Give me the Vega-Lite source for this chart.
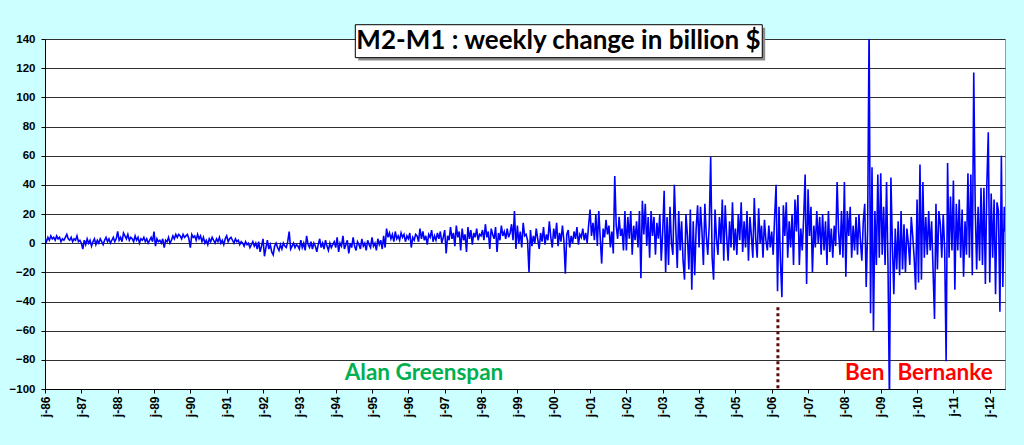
{
  "$schema": "https://vega.github.io/schema/vega-lite/v6.json",
  "width": 960,
  "height": 350,
  "autosize": {"type": "none"},
  "padding": {"left": 45, "top": 39, "right": 19, "bottom": 56},
  "background": "#CCFFFF",
  "config": {
    "view": {"fill": "white", "stroke": "#9a9a9a"},
    "font": "Liberation Sans"
  },
  "datasets": {
    "weekly": [
      {"t":1986.00,"v":3},{"t":1986.04,"v":1},{"t":1986.08,"v":4},{"t":1986.12,"v":2},{"t":1986.16,"v":5},{"t":1986.20,"v":3},{"t":1986.24,"v":4},{"t":1986.28,"v":2},{"t":1986.32,"v":5},{"t":1986.36,"v":3},{"t":1986.40,"v":4},{"t":1986.44,"v":1},{"t":1986.48,"v":3},{"t":1986.52,"v":2},{"t":1986.56,"v":4},{"t":1986.60,"v":6},{"t":1986.64,"v":3},{"t":1986.68,"v":2},{"t":1986.72,"v":4},{"t":1986.76,"v":1},{"t":1986.80,"v":3},{"t":1986.84,"v":2},{"t":1986.88,"v":5},{"t":1986.92,"v":1},{"t":1986.96,"v":2},
      {"t":1987.00,"v":0},{"t":1987.04,"v":-4},{"t":1987.08,"v":2},{"t":1987.12,"v":-1},{"t":1987.16,"v":3},{"t":1987.20,"v":0},{"t":1987.24,"v":2},{"t":1987.28,"v":-2},{"t":1987.32,"v":1},{"t":1987.36,"v":3},{"t":1987.40,"v":-1},{"t":1987.44,"v":2},{"t":1987.48,"v":0},{"t":1987.52,"v":3},{"t":1987.56,"v":1},{"t":1987.60,"v":-1},{"t":1987.64,"v":2},{"t":1987.68,"v":4},{"t":1987.72,"v":1},{"t":1987.76,"v":3},{"t":1987.80,"v":0},{"t":1987.84,"v":2},{"t":1987.88,"v":4},{"t":1987.92,"v":1},{"t":1987.96,"v":3},
      {"t":1988.00,"v":8},{"t":1988.04,"v":2},{"t":1988.08,"v":4},{"t":1988.12,"v":1},{"t":1988.16,"v":7},{"t":1988.20,"v":5},{"t":1988.24,"v":3},{"t":1988.28,"v":6},{"t":1988.32,"v":2},{"t":1988.36,"v":4},{"t":1988.40,"v":3},{"t":1988.44,"v":1},{"t":1988.48,"v":5},{"t":1988.52,"v":2},{"t":1988.56,"v":4},{"t":1988.60,"v":0},{"t":1988.64,"v":3},{"t":1988.68,"v":2},{"t":1988.72,"v":4},{"t":1988.76,"v":1},{"t":1988.80,"v":3},{"t":1988.84,"v":0},{"t":1988.88,"v":2},{"t":1988.92,"v":4},{"t":1988.96,"v":1},
      {"t":1989.00,"v":8},{"t":1989.04,"v":-2},{"t":1989.08,"v":3},{"t":1989.12,"v":1},{"t":1989.16,"v":2},{"t":1989.20,"v":0},{"t":1989.24,"v":3},{"t":1989.28,"v":-3},{"t":1989.32,"v":2},{"t":1989.36,"v":1},{"t":1989.40,"v":4},{"t":1989.44,"v":0},{"t":1989.48,"v":2},{"t":1989.52,"v":5},{"t":1989.56,"v":3},{"t":1989.60,"v":6},{"t":1989.64,"v":4},{"t":1989.68,"v":6},{"t":1989.72,"v":5},{"t":1989.76,"v":3},{"t":1989.80,"v":6},{"t":1989.84,"v":4},{"t":1989.88,"v":5},{"t":1989.92,"v":6},{"t":1989.96,"v":3},
      {"t":1990.00,"v":-3},{"t":1990.04,"v":6},{"t":1990.08,"v":4},{"t":1990.12,"v":5},{"t":1990.16,"v":2},{"t":1990.20,"v":6},{"t":1990.24,"v":3},{"t":1990.28,"v":5},{"t":1990.32,"v":1},{"t":1990.36,"v":4},{"t":1990.40,"v":0},{"t":1990.44,"v":2},{"t":1990.48,"v":-1},{"t":1990.52,"v":3},{"t":1990.56,"v":1},{"t":1990.60,"v":4},{"t":1990.64,"v":2},{"t":1990.68,"v":0},{"t":1990.72,"v":3},{"t":1990.76,"v":1},{"t":1990.80,"v":4},{"t":1990.84,"v":0},{"t":1990.88,"v":2},{"t":1990.92,"v":-1},{"t":1990.96,"v":3},
      {"t":1991.00,"v":5},{"t":1991.04,"v":1},{"t":1991.08,"v":3},{"t":1991.12,"v":4},{"t":1991.16,"v":2},{"t":1991.20,"v":0},{"t":1991.24,"v":3},{"t":1991.28,"v":1},{"t":1991.32,"v":2},{"t":1991.36,"v":-1},{"t":1991.40,"v":1},{"t":1991.44,"v":0},{"t":1991.48,"v":-2},{"t":1991.52,"v":1},{"t":1991.56,"v":-1},{"t":1991.60,"v":0},{"t":1991.64,"v":-3},{"t":1991.68,"v":-1},{"t":1991.72,"v":1},{"t":1991.76,"v":-2},{"t":1991.80,"v":0},{"t":1991.84,"v":-4},{"t":1991.88,"v":1},{"t":1991.92,"v":-6},{"t":1991.96,"v":-2},
      {"t":1992.00,"v":3},{"t":1992.04,"v":-9},{"t":1992.08,"v":-3},{"t":1992.12,"v":2},{"t":1992.16,"v":-4},{"t":1992.20,"v":-1},{"t":1992.24,"v":-6},{"t":1992.28,"v":-8},{"t":1992.32,"v":-2},{"t":1992.36,"v":0},{"t":1992.40,"v":-3},{"t":1992.44,"v":-5},{"t":1992.48,"v":-1},{"t":1992.52,"v":-4},{"t":1992.56,"v":0},{"t":1992.60,"v":-2},{"t":1992.64,"v":-3},{"t":1992.68,"v":1},{"t":1992.72,"v":8},{"t":1992.76,"v":-4},{"t":1992.80,"v":-2},{"t":1992.84,"v":0},{"t":1992.88,"v":-3},{"t":1992.92,"v":-1},{"t":1992.96,"v":-2},
      {"t":1993.00,"v":-4},{"t":1993.04,"v":2},{"t":1993.08,"v":-3},{"t":1993.12,"v":0},{"t":1993.16,"v":-5},{"t":1993.20,"v":5},{"t":1993.24,"v":-1},{"t":1993.28,"v":-3},{"t":1993.32,"v":1},{"t":1993.36,"v":-4},{"t":1993.40,"v":0},{"t":1993.44,"v":-2},{"t":1993.48,"v":-6},{"t":1993.52,"v":-1},{"t":1993.56,"v":3},{"t":1993.60,"v":-3},{"t":1993.64,"v":0},{"t":1993.68,"v":-4},{"t":1993.72,"v":2},{"t":1993.76,"v":-2},{"t":1993.80,"v":-5},{"t":1993.84,"v":0},{"t":1993.88,"v":-3},{"t":1993.92,"v":-1},{"t":1993.96,"v":1},
      {"t":1994.00,"v":-3},{"t":1994.04,"v":4},{"t":1994.08,"v":-6},{"t":1994.12,"v":0},{"t":1994.16,"v":-2},{"t":1994.20,"v":5},{"t":1994.24,"v":-4},{"t":1994.28,"v":-1},{"t":1994.32,"v":2},{"t":1994.36,"v":-7},{"t":1994.40,"v":0},{"t":1994.44,"v":-3},{"t":1994.48,"v":4},{"t":1994.52,"v":-2},{"t":1994.56,"v":-5},{"t":1994.60,"v":1},{"t":1994.64,"v":-1},{"t":1994.68,"v":-4},{"t":1994.72,"v":3},{"t":1994.76,"v":-2},{"t":1994.80,"v":0},{"t":1994.84,"v":-5},{"t":1994.88,"v":2},{"t":1994.92,"v":-1},{"t":1994.96,"v":-3},
      {"t":1995.00,"v":4},{"t":1995.04,"v":-2},{"t":1995.08,"v":0},{"t":1995.12,"v":-5},{"t":1995.16,"v":3},{"t":1995.20,"v":-1},{"t":1995.24,"v":2},{"t":1995.28,"v":-4},{"t":1995.32,"v":5},{"t":1995.36,"v":-3},{"t":1995.40,"v":10},{"t":1995.44,"v":4},{"t":1995.48,"v":7},{"t":1995.52,"v":3},{"t":1995.56,"v":6},{"t":1995.60,"v":1},{"t":1995.64,"v":8},{"t":1995.68,"v":3},{"t":1995.72,"v":5},{"t":1995.76,"v":2},{"t":1995.80,"v":7},{"t":1995.84,"v":4},{"t":1995.88,"v":6},{"t":1995.92,"v":1},{"t":1995.96,"v":5},
      {"t":1996.00,"v":3},{"t":1996.04,"v":7},{"t":1996.08,"v":-3},{"t":1996.12,"v":4},{"t":1996.16,"v":2},{"t":1996.20,"v":6},{"t":1996.24,"v":5},{"t":1996.28,"v":1},{"t":1996.32,"v":10},{"t":1996.36,"v":3},{"t":1996.40,"v":8},{"t":1996.44,"v":2},{"t":1996.48,"v":5},{"t":1996.52,"v":-1},{"t":1996.56,"v":6},{"t":1996.60,"v":4},{"t":1996.64,"v":9},{"t":1996.68,"v":1},{"t":1996.72,"v":5},{"t":1996.76,"v":2},{"t":1996.80,"v":7},{"t":1996.84,"v":3},{"t":1996.88,"v":8},{"t":1996.92,"v":0},{"t":1996.96,"v":4},
      {"t":1997.00,"v":9},{"t":1997.04,"v":-7},{"t":1997.08,"v":5},{"t":1997.12,"v":2},{"t":1997.16,"v":11},{"t":1997.20,"v":3},{"t":1997.24,"v":7},{"t":1997.28,"v":-2},{"t":1997.32,"v":12},{"t":1997.36,"v":4},{"t":1997.40,"v":8},{"t":1997.44,"v":-5},{"t":1997.48,"v":10},{"t":1997.52,"v":2},{"t":1997.56,"v":6},{"t":1997.60,"v":-6},{"t":1997.64,"v":11},{"t":1997.68,"v":3},{"t":1997.72,"v":9},{"t":1997.76,"v":-1},{"t":1997.80,"v":7},{"t":1997.84,"v":4},{"t":1997.88,"v":10},{"t":1997.92,"v":2},{"t":1997.96,"v":6},
      {"t":1998.00,"v":5},{"t":1998.04,"v":9},{"t":1998.08,"v":2},{"t":1998.12,"v":13},{"t":1998.16,"v":4},{"t":1998.20,"v":8},{"t":1998.24,"v":-4},{"t":1998.28,"v":10},{"t":1998.32,"v":6},{"t":1998.36,"v":3},{"t":1998.40,"v":11},{"t":1998.44,"v":-6},{"t":1998.48,"v":7},{"t":1998.52,"v":2},{"t":1998.56,"v":12},{"t":1998.60,"v":5},{"t":1998.64,"v":8},{"t":1998.68,"v":3},{"t":1998.72,"v":10},{"t":1998.76,"v":4},{"t":1998.80,"v":7},{"t":1998.84,"v":13},{"t":1998.88,"v":2},{"t":1998.92,"v":22},{"t":1998.96,"v":-4},
      {"t":1999.00,"v":12},{"t":1999.04,"v":0},{"t":1999.08,"v":8},{"t":1999.12,"v":-3},{"t":1999.16,"v":14},{"t":1999.20,"v":5},{"t":1999.24,"v":6},{"t":1999.28,"v":2},{"t":1999.32,"v":-20},{"t":1999.36,"v":9},{"t":1999.40,"v":-2},{"t":1999.44,"v":5},{"t":1999.48,"v":0},{"t":1999.52,"v":10},{"t":1999.56,"v":3},{"t":1999.60,"v":-4},{"t":1999.64,"v":7},{"t":1999.68,"v":1},{"t":1999.72,"v":11},{"t":1999.76,"v":-1},{"t":1999.80,"v":6},{"t":1999.84,"v":2},{"t":1999.88,"v":15},{"t":1999.92,"v":4},{"t":1999.96,"v":-3},
      {"t":2000.00,"v":10},{"t":2000.04,"v":3},{"t":2000.08,"v":14},{"t":2000.12,"v":-2},{"t":2000.16,"v":7},{"t":2000.20,"v":1},{"t":2000.24,"v":12},{"t":2000.28,"v":2},{"t":2000.32,"v":-21},{"t":2000.36,"v":6},{"t":2000.40,"v":9},{"t":2000.44,"v":-3},{"t":2000.48,"v":5},{"t":2000.52,"v":0},{"t":2000.56,"v":8},{"t":2000.60,"v":3},{"t":2000.64,"v":11},{"t":2000.68,"v":-1},{"t":2000.72,"v":6},{"t":2000.76,"v":4},{"t":2000.80,"v":10},{"t":2000.84,"v":2},{"t":2000.88,"v":7},{"t":2000.92,"v":0},{"t":2000.96,"v":12},
      {"t":2001.00,"v":23},{"t":2001.04,"v":5},{"t":2001.08,"v":14},{"t":2001.12,"v":2},{"t":2001.16,"v":20},{"t":2001.20,"v":-2},{"t":2001.24,"v":22},{"t":2001.28,"v":4},{"t":2001.32,"v":-14},{"t":2001.36,"v":10},{"t":2001.40,"v":4},{"t":2001.44,"v":16},{"t":2001.48,"v":6},{"t":2001.52,"v":12},{"t":2001.56,"v":-3},{"t":2001.60,"v":8},{"t":2001.64,"v":-7},{"t":2001.68,"v":46},{"t":2001.72,"v":12},{"t":2001.76,"v":3},{"t":2001.80,"v":18},{"t":2001.84,"v":5},{"t":2001.88,"v":10},{"t":2001.92,"v":-5},{"t":2001.96,"v":22},
      {"t":2002.00,"v":-5},{"t":2002.04,"v":18},{"t":2002.08,"v":3},{"t":2002.12,"v":22},{"t":2002.16,"v":-8},{"t":2002.20,"v":12},{"t":2002.24,"v":2},{"t":2002.28,"v":15},{"t":2002.32,"v":-3},{"t":2002.36,"v":22},{"t":2002.40,"v":-24},{"t":2002.44,"v":29},{"t":2002.48,"v":6},{"t":2002.52,"v":27},{"t":2002.56,"v":-2},{"t":2002.60,"v":18},{"t":2002.64,"v":-10},{"t":2002.68,"v":22},{"t":2002.72,"v":5},{"t":2002.76,"v":18},{"t":2002.80,"v":-8},{"t":2002.84,"v":14},{"t":2002.88,"v":3},{"t":2002.92,"v":20},{"t":2002.96,"v":-12},
      {"t":2003.00,"v":8},{"t":2003.04,"v":36},{"t":2003.08,"v":-20},{"t":2003.12,"v":18},{"t":2003.16,"v":-15},{"t":2003.20,"v":25},{"t":2003.24,"v":0},{"t":2003.28,"v":-8},{"t":2003.32,"v":40},{"t":2003.36,"v":10},{"t":2003.40,"v":-17},{"t":2003.44,"v":22},{"t":2003.48,"v":-5},{"t":2003.52,"v":15},{"t":2003.56,"v":-12},{"t":2003.60,"v":-25},{"t":2003.64,"v":20},{"t":2003.68,"v":5},{"t":2003.72,"v":-18},{"t":2003.76,"v":23},{"t":2003.80,"v":-32},{"t":2003.84,"v":15},{"t":2003.88,"v":-22},{"t":2003.92,"v":10},{"t":2003.96,"v":26},
      {"t":2004.00,"v":-3},{"t":2004.04,"v":25},{"t":2004.08,"v":8},{"t":2004.12,"v":-15},{"t":2004.16,"v":27},{"t":2004.20,"v":5},{"t":2004.24,"v":-8},{"t":2004.28,"v":12},{"t":2004.32,"v":59},{"t":2004.36,"v":-10},{"t":2004.40,"v":-25},{"t":2004.44,"v":23},{"t":2004.48,"v":3},{"t":2004.52,"v":-8},{"t":2004.56,"v":18},{"t":2004.60,"v":0},{"t":2004.64,"v":30},{"t":2004.68,"v":-12},{"t":2004.72,"v":26},{"t":2004.76,"v":5},{"t":2004.80,"v":-12},{"t":2004.84,"v":15},{"t":2004.88,"v":-3},{"t":2004.92,"v":28},{"t":2004.96,"v":-5},
      {"t":2005.00,"v":10},{"t":2005.04,"v":-8},{"t":2005.08,"v":20},{"t":2005.12,"v":2},{"t":2005.16,"v":28},{"t":2005.20,"v":-6},{"t":2005.24,"v":15},{"t":2005.28,"v":-3},{"t":2005.32,"v":22},{"t":2005.36,"v":-12},{"t":2005.40,"v":18},{"t":2005.44,"v":5},{"t":2005.48,"v":-10},{"t":2005.52,"v":31},{"t":2005.56,"v":3},{"t":2005.60,"v":-10},{"t":2005.64,"v":24},{"t":2005.68,"v":0},{"t":2005.72,"v":12},{"t":2005.76,"v":-10},{"t":2005.80,"v":16},{"t":2005.84,"v":2},{"t":2005.88,"v":-5},{"t":2005.92,"v":12},{"t":2005.96,"v":-3},
      {"t":2006.00,"v":8},{"t":2006.04,"v":-8},{"t":2006.08,"v":18},{"t":2006.12,"v":40},{"t":2006.16,"v":-33},{"t":2006.20,"v":25},{"t":2006.24,"v":-12},{"t":2006.28,"v":-37},{"t":2006.32,"v":26},{"t":2006.36,"v":5},{"t":2006.40,"v":28},{"t":2006.44,"v":-10},{"t":2006.48,"v":15},{"t":2006.52,"v":-3},{"t":2006.56,"v":20},{"t":2006.60,"v":-15},{"t":2006.64,"v":30},{"t":2006.68,"v":8},{"t":2006.72,"v":33},{"t":2006.76,"v":-15},{"t":2006.80,"v":10},{"t":2006.84,"v":-5},{"t":2006.88,"v":18},{"t":2006.92,"v":47},{"t":2006.96,"v":-28},
      {"t":2007.00,"v":37},{"t":2007.04,"v":5},{"t":2007.08,"v":25},{"t":2007.12,"v":-20},{"t":2007.16,"v":12},{"t":2007.20,"v":-3},{"t":2007.24,"v":22},{"t":2007.28,"v":0},{"t":2007.32,"v":18},{"t":2007.36,"v":-8},{"t":2007.40,"v":20},{"t":2007.44,"v":-5},{"t":2007.48,"v":15},{"t":2007.52,"v":-15},{"t":2007.56,"v":22},{"t":2007.60,"v":-6},{"t":2007.64,"v":10},{"t":2007.68,"v":-10},{"t":2007.72,"v":12},{"t":2007.76,"v":-2},{"t":2007.80,"v":42},{"t":2007.84,"v":8},{"t":2007.88,"v":-8},{"t":2007.92,"v":22},{"t":2007.96,"v":-10},
      {"t":2008.00,"v":42},{"t":2008.04,"v":-23},{"t":2008.08,"v":22},{"t":2008.12,"v":5},{"t":2008.16,"v":25},{"t":2008.20,"v":-10},{"t":2008.24,"v":12},{"t":2008.28,"v":-5},{"t":2008.32,"v":18},{"t":2008.36,"v":-8},{"t":2008.40,"v":20},{"t":2008.44,"v":2},{"t":2008.48,"v":-12},{"t":2008.52,"v":15},{"t":2008.56,"v":27},{"t":2008.60,"v":-30},{"t":2008.64,"v":10},{"t":2008.68,"v":150},{"t":2008.72,"v":-48},{"t":2008.76,"v":52},{"t":2008.80,"v":-60},{"t":2008.84,"v":22},{"t":2008.88,"v":-15},{"t":2008.92,"v":47},{"t":2008.96,"v":-10},
      {"t":2009.00,"v":48},{"t":2009.04,"v":-8},{"t":2009.08,"v":25},{"t":2009.12,"v":-15},{"t":2009.16,"v":42},{"t":2009.20,"v":-15},{"t":2009.24,"v":-110},{"t":2009.28,"v":45},{"t":2009.32,"v":0},{"t":2009.36,"v":-35},{"t":2009.40,"v":10},{"t":2009.44,"v":-18},{"t":2009.48,"v":15},{"t":2009.52,"v":-22},{"t":2009.56,"v":22},{"t":2009.60,"v":-18},{"t":2009.64,"v":13},{"t":2009.68,"v":-20},{"t":2009.72,"v":10},{"t":2009.76,"v":0},{"t":2009.80,"v":-15},{"t":2009.84,"v":18},{"t":2009.88,"v":5},{"t":2009.92,"v":-10},{"t":2009.96,"v":-32},
      {"t":2010.00,"v":30},{"t":2010.04,"v":-27},{"t":2010.08,"v":54},{"t":2010.12,"v":-25},{"t":2010.16,"v":42},{"t":2010.20,"v":-10},{"t":2010.24,"v":18},{"t":2010.28,"v":-8},{"t":2010.32,"v":22},{"t":2010.36,"v":-5},{"t":2010.40,"v":15},{"t":2010.44,"v":-18},{"t":2010.48,"v":-52},{"t":2010.52,"v":27},{"t":2010.56,"v":-18},{"t":2010.60,"v":22},{"t":2010.64,"v":13},{"t":2010.68,"v":-10},{"t":2010.72,"v":20},{"t":2010.76,"v":-5},{"t":2010.80,"v":-81},{"t":2010.84,"v":55},{"t":2010.88,"v":-10},{"t":2010.92,"v":32},{"t":2010.96,"v":-5},
      {"t":2011.00,"v":43},{"t":2011.04,"v":-32},{"t":2011.08,"v":27},{"t":2011.12,"v":-5},{"t":2011.16,"v":30},{"t":2011.20,"v":-10},{"t":2011.24,"v":23},{"t":2011.28,"v":-23},{"t":2011.32,"v":15},{"t":2011.36,"v":-8},{"t":2011.40,"v":48},{"t":2011.44,"v":-10},{"t":2011.48,"v":47},{"t":2011.52,"v":-22},{"t":2011.56,"v":117},{"t":2011.60,"v":25},{"t":2011.64,"v":-18},{"t":2011.68,"v":25},{"t":2011.72,"v":-12},{"t":2011.76,"v":38},{"t":2011.80,"v":-15},{"t":2011.84,"v":38},{"t":2011.88,"v":-28},{"t":2011.92,"v":40},{"t":2011.96,"v":76},
      {"t":2012.00,"v":-27},{"t":2012.04,"v":34},{"t":2012.08,"v":-10},{"t":2012.12,"v":30},{"t":2012.16,"v":-35},{"t":2012.20,"v":28},{"t":2012.24,"v":22},{"t":2012.28,"v":-47},{"t":2012.32,"v":60},{"t":2012.36,"v":-30},{"t":2012.40,"v":25},{"t":2012.42,"v":8}
    ]
  },
  "layer": [
    {
      "data": {"name": "weekly"},
      "mark": {"type": "line", "color": "#0000FF", "strokeWidth": 1.6, "clip": true},
      "encoding": {
        "x": {
          "field": "t",
          "type": "quantitative",
          "scale": {"domain": [1986, 2012.42], "nice": false, "zero": false},
          "axis": {
            "title": null,
            "values": [1986,1987,1988,1989,1990,1991,1992,1993,1994,1995,1996,1997,1998,1999,2000,2001,2002,2003,2004,2005,2006,2007,2008,2009,2010,2011,2012],
            "tickCount": 60,
            "labelExpr": "'j-' + slice(toString(datum.value), 2)",
            "labelAngle": 270,
            "labelFontSize": 12,
            "labelFontWeight": "bold",
            "labelColor": "black",
            "labelPadding": 3,
            "labelOverlap": false,
            "labelFlush": false,
            "labelBound": false,
            "tickColor": "black",
            "tickSize": 4,
            "domainColor": "black",
            "grid": false
          }
        },
        "y": {
          "field": "v",
          "type": "quantitative",
          "scale": {"domain": [-100, 140], "nice": false},
          "axis": {
            "title": null,
            "values": [-100,-80,-60,-40,-20,0,20,40,60,80,100,120,140],
            "tickCount": 30,
            "labelFontSize": 11.5,
            "labelFontWeight": "bold",
            "labelColor": "black",
            "labelPadding": 6,
            "labelOverlap": false,
            "labelFlush": false,
            "labelBound": false,
            "tickColor": "black",
            "tickSize": 4,
            "domainColor": "black",
            "grid": true,
            "gridColor": "#303030",
            "gridWidth": 1
          }
        }
      }
    },
    {
      "data": {"values": [{"t": 2006.17, "top": -44, "bottom": -100}]},
      "mark": {"type": "rule", "color": "#5C0A0A", "strokeWidth": 3, "strokeDash": [3, 3]},
      "encoding": {
        "x": {"field": "t", "type": "quantitative", "title": null},
        "y": {"field": "top", "type": "quantitative", "title": null},
        "y2": {"field": "bottom"}
      }
    },
    {
      "data": {"values": [{"x0": 1994.62, "x1": 2005.82, "y0": 125.2, "y1": 147.8}]},
      "mark": {"type": "rect", "color": "#8c8c8c"},
      "encoding": {
        "x": {"field": "x0", "type": "quantitative", "title": null},
        "x2": {"field": "x1"},
        "y": {"field": "y0", "type": "quantitative", "title": null},
        "y2": {"field": "y1"}
      }
    },
    {
      "data": {"values": [{"x0": 1994.54, "x1": 2005.74, "y0": 127.2, "y1": 149.8}]},
      "mark": {"type": "rect", "fill": "white", "stroke": "black", "strokeWidth": 1},
      "encoding": {
        "x": {"field": "x0", "type": "quantitative", "title": null},
        "x2": {"field": "x1"},
        "y": {"field": "y0", "type": "quantitative", "title": null},
        "y2": {"field": "y1"}
      }
    },
    {
      "data": {"values": [{"t": 2000.13, "v": 138.8, "label": "M2-M1  : weekly change in billion $"}]},
      "mark": {"type": "text", "font": "Lato", "fontWeight": "bold", "fontSize": 26, "color": "black", "align": "center", "baseline": "middle"},
      "encoding": {
        "x": {"field": "t", "type": "quantitative", "title": null},
        "y": {"field": "v", "type": "quantitative", "title": null},
        "text": {"field": "label"}
      }
    },
    {
      "data": {"values": [
        {"t": 1996.43, "v": -88.8, "label": "Alan Greenspan", "kind": "greenspan"},
        {"t": 2008.56, "v": -88.8, "label": "Ben", "kind": "bernanke"},
        {"t": 2010.77, "v": -88.8, "label": "Bernanke", "kind": "bernanke"}
      ]},
      "mark": {"type": "text", "font": "Lato", "fontWeight": "bold", "fontSize": 22.5, "align": "center", "baseline": "middle"},
      "encoding": {
        "x": {"field": "t", "type": "quantitative", "title": null},
        "y": {"field": "v", "type": "quantitative", "title": null},
        "text": {"field": "label"},
        "color": {
          "field": "kind",
          "type": "nominal",
          "scale": {"domain": ["greenspan", "bernanke"], "range": ["#00B050", "#FF0000"]},
          "legend": null
        }
      }
    }
  ]
}
